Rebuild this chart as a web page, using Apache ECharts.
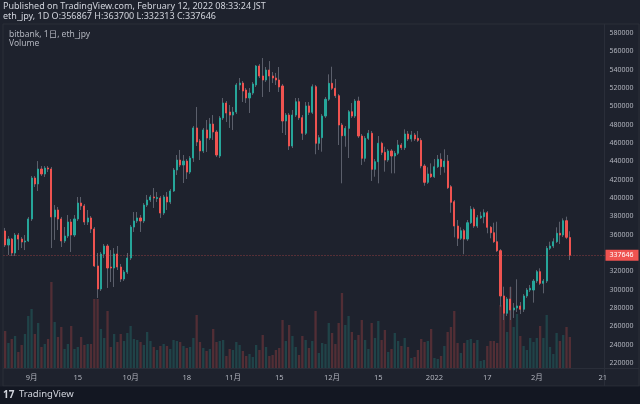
<!DOCTYPE html>
<html>
<head>
<meta charset="utf-8">
<script src="https://cdn.jsdelivr.net/npm/echarts@6/dist/echarts.min.js"></script>
<style>
  html, body { margin: 0; padding: 0; background: #1e222d; }
  #chart { width: 640px; height: 404px; }
</style>
</head>
<body>
<div id="chart"></div>
<script>
// daily candles, bitbank eth_jpy, first candle 2021-08-24 (prices in thousand yen)
const startDate = '2021-08-24'
const axisDays = 182 // axis runs on to 2022-02-21

const opens = [364.0,348.7,355.2,340.0,359.6,355.2,352.0,353.1,377.1,421.8,415.3,431.6,426.2,432.7,431.6,379.3,386.9,377.1,353.1,358.5,
  373.8,359.6,377.1,394.5,391.3,373.8,378.2,366.2,325.8,300.7,338.9,347.6,324.7,323.6,338.9,324.7,311.6,319.2,334.5,368.3,
  374.9,378.2,374.9,392.3,397.8,401.1,399.4,400.0,383.6,401.1,395.6,407.6,430.5,441.4,436.0,440.3,428.3,443.6,476.4,462.2,
  451.3,474.2,465.4,480.7,472.0,445.8,487.3,503.6,493.8,490.5,493.8,523.3,525.4,517.8,509.1,514.5,523.3,544.0,533.1,528.7,
  539.6,533.1,530.9,528.7,522.2,484.0,490.5,456.7,490.5,505.0,487.6,470.6,500.4,493.5,521.4,459.7,465.8,489.4,507.7,525.1,
  519.7,511.6,479.6,467.9,476.0,494.1,489.4,505.8,467.6,443.3,465.1,470.6,431.3,439.6,459.7,449.8,441.4,451.3,445.8,448.8,
  457.8,454.9,469.8,464.4,468.7,465.1,462.9,434.9,417.1,426.2,423.2,434.1,442.2,434.1,440.3,412.3,395.9,369.4,356.0,364.3,
  355.2,373.0,387.7,369.4,378.5,379.6,383.9,368.0,362.1,352.3,342.5,293.1,274.2,289.8,277.8,280.0,282.2,278.6,293.1,299.6,
  299.6,309.4,319.6,306.9,309.4,345.1,347.6,352.3,361.5,359.6,375.2,356.867]
const closes = [348.7,355.2,340.0,359.6,355.2,352.0,353.1,377.1,421.8,415.3,431.6,426.2,432.7,431.6,379.3,386.9,377.1,353.1,358.5,373.8,
  359.6,377.1,394.5,391.3,373.8,378.2,366.2,325.8,300.7,338.9,347.6,323.6,323.6,338.9,324.7,311.6,319.2,334.5,368.3,374.9,
  378.2,374.9,392.3,397.8,401.1,400.0,400.5,383.6,401.1,395.6,407.6,430.5,441.4,436.0,440.3,428.3,443.6,476.4,461.1,451.3,
  474.2,465.4,480.7,472.0,446.9,487.3,503.6,492.7,490.5,493.8,523.3,525.4,516.7,509.1,514.5,524.4,544.0,533.1,528.7,539.6,
  533.1,530.9,528.7,521.1,484.0,490.5,456.7,490.5,505.0,487.6,470.6,500.4,493.5,521.4,459.7,465.8,489.4,507.7,525.1,519.7,
  511.6,479.6,467.9,476.0,494.1,489.4,505.8,467.6,443.3,465.1,470.6,431.3,439.6,459.7,449.8,441.4,451.3,445.8,448.8,457.8,
  454.9,469.8,464.4,468.7,464.4,462.9,434.9,417.1,426.2,423.2,434.1,442.2,434.1,440.3,411.2,395.3,369.4,356.0,364.3,355.2,
  373.0,387.7,369.4,378.5,380.3,383.9,368.0,362.1,352.3,342.5,293.1,274.2,289.8,277.8,280.0,282.2,278.6,293.1,299.6,301.5,
  309.4,319.6,306.9,309.4,345.1,347.6,352.3,361.5,359.6,375.2,357.1,337.646]
const highs = [367.3,358.5,356.3,361.8,361.8,357.4,359.6,379.3,424.0,424.0,440.3,434.9,434.9,434.9,433.8,392.3,390.2,379.3,368.3,381.4,
  377.1,381.4,401.1,401.1,393.4,386.9,380.3,368.3,340.0,341.1,349.8,349.8,343.2,345.4,347.6,328.0,321.4,340.0,370.5,384.7,
  384.7,381.4,394.5,403.3,403.3,410.9,406.5,402.2,403.3,406.5,409.8,432.7,446.9,452.4,446.9,442.5,445.8,478.5,499.3,464.4,
  476.4,485.1,487.3,490.5,474.2,489.4,509.1,505.8,501.4,499.3,525.4,530.9,527.6,520.0,520.0,526.5,545.1,546.2,552.7,542.9,
  549.4,537.4,536.4,542.9,524.4,492.7,492.7,496.0,509.1,509.1,490.5,504.7,504.7,524.0,523.3,468.7,491.6,510.2,534.9,543.2,
  529.8,513.4,481.8,478.5,496.0,503.6,508.0,510.5,469.8,467.6,474.2,473.1,442.5,467.6,461.4,455.9,453.4,453.4,451.3,463.3,
  460.0,474.9,473.1,473.1,470.9,473.1,465.4,437.1,433.5,437.8,442.5,446.9,448.8,453.1,446.9,414.2,397.8,376.0,368.0,366.2,
  376.0,391.3,389.8,381.4,385.0,387.7,385.8,369.4,373.0,374.1,344.3,303.2,292.0,303.2,285.4,311.3,286.5,295.2,301.8,305.1,
  311.6,321.4,323.3,311.6,347.6,352.3,356.0,368.0,374.1,377.8,379.6,363.7]
const lows = [346.5,337.8,336.7,336.7,343.2,345.4,343.2,352.0,374.9,412.0,407.6,424.0,422.9,428.3,345.4,354.2,365.1,346.5,350.9,356.3,
  341.1,357.4,374.9,386.9,370.5,370.5,361.8,324.7,290.9,298.5,334.5,301.8,308.3,302.9,321.4,308.3,309.4,317.1,332.3,362.9,
  372.7,362.9,372.7,390.2,395.6,389.1,395.6,378.2,381.4,386.9,393.4,406.5,425.1,433.8,416.3,420.7,426.2,439.3,456.7,441.4,
  449.1,450.2,463.3,463.3,444.7,443.6,485.1,482.9,476.4,474.2,491.6,517.8,504.7,503.6,492.7,512.4,521.1,530.9,510.2,526.5,
  515.6,525.4,523.3,515.6,470.9,468.7,452.4,454.5,488.4,485.1,463.3,468.7,490.5,491.6,447.7,452.4,450.5,487.3,505.8,517.8,
  509.1,457.8,416.0,455.9,443.6,487.3,487.3,465.4,436.0,439.6,463.3,418.5,423.2,416.0,446.9,428.7,439.3,426.9,426.9,446.9,
  452.4,452.4,462.2,461.4,462.2,461.1,432.4,413.4,415.3,421.8,421.8,432.7,425.1,427.6,409.8,383.9,357.1,347.6,354.2,338.6,
  353.1,371.6,367.3,367.3,377.1,372.4,361.5,356.0,350.9,341.1,281.4,266.9,271.2,266.9,269.1,275.6,273.4,275.6,290.9,297.4,
  285.8,307.2,305.1,296.0,307.2,343.2,345.4,350.9,349.8,357.4,355.2,332.313]
// relative volume
const volumes = [37,25,29,32,16,23,34,52,59,34,45,21,24,29,86,46,31,41,19,24,
  42,19,21,31,23,24,24,69,69,39,30,57,21,34,26,34,27,35,42,29,
  28,26,23,36,27,21,18,22,24,22,19,28,27,26,22,20,21,30,53,26,
  20,17,19,39,26,27,28,12,19,18,26,23,17,12,14,11,23,18,33,21,
  12,13,18,20,48,27,43,32,21,13,32,28,20,27,57,15,25,24,45,35,
  24,45,75,43,52,36,28,33,48,28,19,45,30,47,28,38,16,19,35,27,
  22,30,21,10,11,18,29,26,27,39,10,9,12,22,36,41,57,25,15,25,
  28,29,25,28,7,8,22,27,27,25,63,54,36,81,41,54,32,22,18,30,
  26,30,42,30,53,21,14,35,27,33,41,31]

const tickDates = ['2021-09-01','2021-09-15','2021-10-01','2021-10-18','2021-11-01','2021-11-15','2021-12-01','2021-12-15','2022-01-01','2022-01-17','2022-02-01','2022-02-21']
const tickTexts = ['9月','15','10月','18','11月','15','12月','15','2022','17','2月','21']
const priceTicks = [220000,240000,260000,280000,300000,320000,340000,360000,380000,400000,420000,440000,460000,480000,500000,520000,540000,560000,580000]
const lastPrice = 337646

const UP = '#26a69a'
const DOWN = '#ef5350'
const WICK = '#5b5f6b'
const LINE = '#2a2e39'
const TEXT = '#b2b5be'
const FONT = '"Noto Sans", "Noto Sans CJK JP", sans-serif'

const dates = []
const t0 = Date.parse(startDate + 'T00:00:00Z')
for (let i = 0; i < axisDays; i++) dates.push(new Date(t0 + i * 86400000).toISOString().slice(0, 10))

const k = (v) => Math.round(v * 1000)
const full = opens.map((o, i) => [k(o), k(closes[i]), k(lows[i]), k(highs[i])])
const bodies = opens.map((o, i) => [k(o), k(closes[i]), k(Math.min(o, closes[i])), k(Math.max(o, closes[i]))])
const vols = volumes.map((v, i) => ({
  value: v,
  itemStyle: { color: closes[i] >= opens[i] ? 'rgba(38,166,154,0.25)' : 'rgba(239,83,80,0.25)' },
}))

const chart = echarts.init(document.getElementById('chart'), null, { renderer: 'canvas' })

chart.setOption({
  backgroundColor: '#1e222d',
  animation: false,
  textStyle: { fontFamily: FONT },
  grid: { left: 3.5, right: 35.5, top: 24, bottom: 36 },
  xAxis: {
    type: 'category',
    data: dates,
    boundaryGap: true,
    axisLine: { show: false },
    axisTick: { show: false },
    splitLine: { show: false },
    axisLabel: {
      color: TEXT,
      fontSize: 7.5,
      margin: 6,
      interval: (idx, val) => tickDates.includes(val),
      formatter: (val) => tickTexts[tickDates.indexOf(val)],
    },
  },
  yAxis: [
    {
      type: 'value',
      position: 'right',
      min: 214515,
      max: 589819,
      axisLine: { show: false },
      axisTick: { show: false },
      splitLine: { show: false },
      axisLabel: {
        color: TEXT,
        fontSize: 7,
        margin: 5,
        customValues: priceTicks,
        formatter: (v) => String(v),
      },
    },
    { type: 'value', min: 0, max: 344, show: false },
  ],
  series: [
    {
      type: 'bar',
      yAxisIndex: 1,
      data: vols,
      barWidth: 2.3,
      z: 1,
    },
    {
      type: 'candlestick',
      data: full,
      barWidth: 1,
      z: 2,
      itemStyle: { color: WICK, color0: WICK, borderColor: WICK, borderColor0: WICK, borderWidth: 1 },
    },
    {
      type: 'candlestick',
      data: bodies,
      barWidth: 1.6,
      z: 3,
      itemStyle: { color: UP, color0: DOWN, borderColor: UP, borderColor0: DOWN, borderWidth: 1 },
      markLine: {
        silent: true,
        symbol: 'none',
        z: 10,
        data: [{ yAxis: lastPrice }],
        lineStyle: { color: 'rgba(239,83,80,0.55)', type: [1, 2], width: 1 },
        label: {
          position: 'end',
          formatter: String(lastPrice),
          color: '#ffffff',
          backgroundColor: DOWN,
          fontSize: 7,
          padding: [2, 5, 2, 4],
          distance: 1,
        },
      },
    },
  ],
  graphic: [
    { type: 'text', left: 3, top: 2, style: { text: 'Published on TradingView.com, February 12, 2022 08:33:24 JST', fill: '#d1d4dc', fontSize: 9, fontFamily: FONT } },
    { type: 'text', left: 3, top: 12, style: { text: 'eth_jpy, 1D O:356867 H:363700 L:332313 C:337646', fill: '#d1d4dc', fontSize: 9, fontFamily: FONT } },
    { type: 'rect', shape: { x: 3, y: 24, width: 636, height: 362 }, style: { fill: 'none', stroke: LINE, lineWidth: 1 }, silent: true },
    { type: 'line', shape: { x1: 3, y1: 368.5, x2: 639, y2: 368.5 }, style: { stroke: LINE, lineWidth: 1 }, silent: true },
    { type: 'line', shape: { x1: 604.5, y1: 24, x2: 604.5, y2: 386 }, style: { stroke: LINE, lineWidth: 1 }, silent: true },
    { type: 'text', left: 9, top: 30, style: { text: 'bitbank, 1日, eth_jpy', fill: TEXT, fontSize: 8.5, fontFamily: FONT } },
    { type: 'text', left: 9, top: 39, style: { text: 'Volume', fill: TEXT, fontSize: 8.5, fontFamily: FONT } },
    { type: 'rect', shape: { x: 0, y: 386.5, width: 640, height: 18 }, style: { fill: '#131722' }, silent: true },
    { type: 'text', left: 3, top: 390, style: { text: '17', fill: '#d1d4dc', fontSize: 10, fontWeight: 'bold', fontFamily: FONT } },
    { type: 'text', left: 19, top: 390, style: { text: 'TradingView', fill: '#d1d4dc', fontSize: 9.5, fontFamily: FONT } },
  ],
})
</script>
</body>
</html>
